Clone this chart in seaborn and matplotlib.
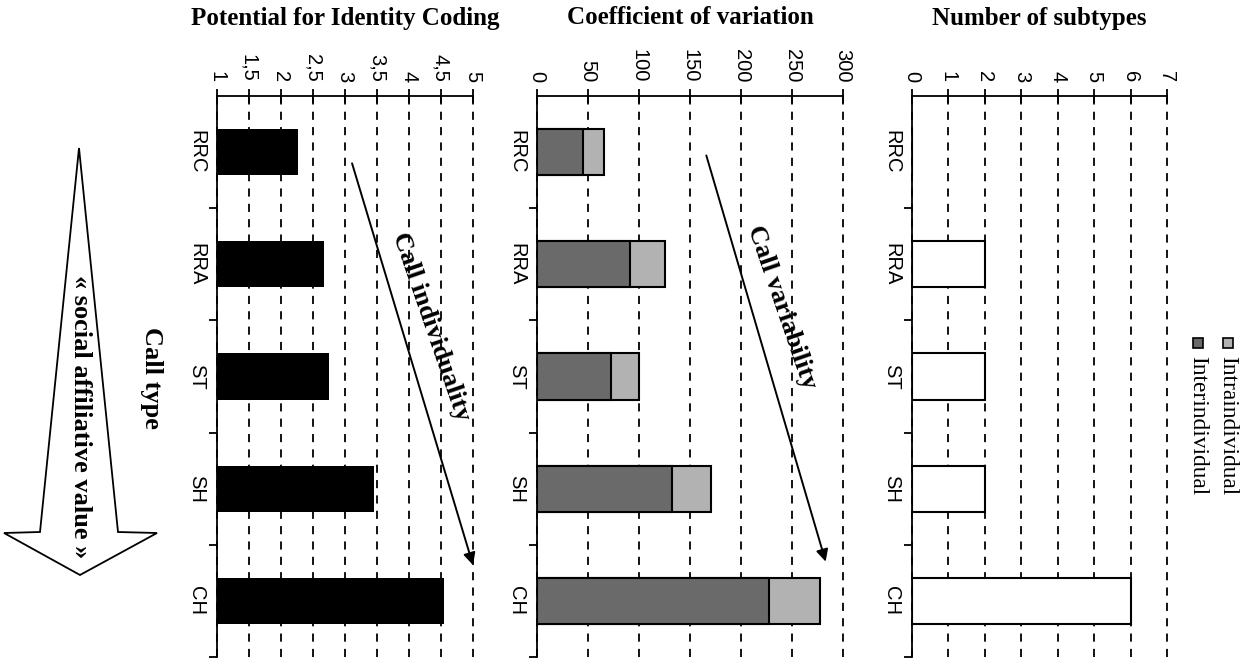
import numpy as np
import pandas as pd
import matplotlib.pyplot as plt
import seaborn as sns
from matplotlib.patches import Polygon, Rectangle

# values
call_types = ['RRC', 'RRA', 'ST', 'SH', 'CH']
pic = [2.27, 2.67, 2.75, 3.45, 4.55]
cv_inter = [45, 91, 73, 132, 227]
cv_intra = [21, 34, 27, 39, 50]
n_subtypes = [0, 2, 2, 2, 6]

pic_ticks = [1, 1.5, 2, 2.5, 3, 3.5, 4, 4.5, 5]
pic_labels = ['1', '1,5', '2', '2,5', '3', '3,5', '4', '4,5', '5']
cv_ticks = [0, 50, 100, 150, 200, 250, 300]
sub_ticks = [0, 1, 2, 3, 4, 5, 6, 7]

cv_total = [a + b for a, b in zip(cv_inter, cv_intra)]

sns.set_theme(style='white')
plt.rcParams['font.family'] = ['Liberation Sans', 'DejaVu Sans']
plt.rcParams.update({'text.color': 'black', 'xtick.color': 'black',
                     'ytick.color': 'black', 'axes.labelcolor': 'black'})
SERIF = ['Liberation Serif', 'DejaVu Serif']

W, H = 1249, 659
fig = plt.figure(figsize=(W / 100, H / 100), dpi=100)


def px_axes(x0, x1, y0, y1):
    return fig.add_axes([x0 / W, 1 - y1 / H, (x1 - x0) / W, (y1 - y0) / H])


def fx(x, y):
    return (x / W, 1 - y / H)


def style(ax, ticks, labels, xlim):
    ax.set_xlim(*xlim)
    ax.set_ylim(4.5, -0.5)
    ax.set_xlabel('')
    ax.set_ylabel('')
    ax.xaxis.tick_top()
    ax.set_xticks(ticks)
    ax.set_xticklabels(labels, rotation=-90, fontsize=14.5, color='black')
    ax.tick_params(axis='x', which='major', direction='inout', length=10,
                   width=1.3, pad=5, colors='black', top=True, bottom=False)
    ax.set_yticks(range(5))
    ax.set_yticklabels(call_types, rotation=-90, va='center', fontsize=14.5,
                       color='black')
    ax.tick_params(axis='y', which='major', length=0, pad=8)
    ax.set_yticks([0.5, 1.5, 2.5, 3.5, 4.5], minor=True)
    ax.tick_params(axis='y', which='minor', length=6, width=1.3,
                   direction='out', left=True, color='black')
    for s in ['right', 'bottom']:
        ax.spines[s].set_visible(False)
    for s in ['top', 'left']:
        ax.spines[s].set_color('black')
        ax.spines[s].set_linewidth(1.3)
    ax.set_axisbelow(True)
    ax.grid(axis='x', color='black', linestyle=(0, (4.5, 4)), linewidth=1.3)
    ax.grid(axis='y', visible=False)
    for gl in ax.get_xgridlines():
        gl.set_clip_on(False)


# panel 1: potential for identity coding
ax1 = px_axes(217, 473, 96, 657)
sns.barplot(x=pic, y=call_types, orient='h', color='black', saturation=1,
            width=0.41, edgecolor='black', linewidth=0, ax=ax1)
style(ax1, pic_ticks, pic_labels, (1, 5))

# panel 2: coefficient of variation (stacked)
ax2 = px_axes(537, 843, 96, 657)
sns.barplot(x=cv_total, y=call_types, orient='h', color='#b2b2b2', saturation=1,
            width=0.41, edgecolor='black', linewidth=1.5, ax=ax2)
sns.barplot(x=cv_inter, y=call_types, orient='h', color='#6a6a6a', saturation=1,
            width=0.41, edgecolor='black', linewidth=1.5, ax=ax2)
style(ax2, cv_ticks, [str(t) for t in cv_ticks], (0, 300))

# panel 3: number of subtypes
ax3 = px_axes(912, 1167, 96, 657)
sns.barplot(x=n_subtypes, y=call_types, orient='h', color='white', saturation=1,
            width=0.41, edgecolor='black', linewidth=1.5, ax=ax3)
style(ax3, sub_ticks, [str(t) for t in sub_ticks], (0, 7))

# titles
for ax, title in [(ax1, 'Potential for Identity Coding'),
                  (ax2, 'Coefficient of variation'),
                  (ax3, 'Number of subtypes')]:
    pos = ax.get_position()
    fig.text((pos.x0 + pos.x1) / 2, 1 - 18 / H, title, ha='center', va='center',
             fontsize=18, fontweight='bold', family=SERIF, color='black')

# trend arrows
ax1.annotate('', xy=(5.0, 3.68), xytext=(3.11, 0.10),
             arrowprops=dict(arrowstyle='-|>', color='black', lw=1.4,
                             mutation_scale=18, shrinkA=0, shrinkB=0))
ax1.text(4.34, 1.56, 'Call individuality', rotation=-71, ha='center', va='center',
         fontsize=19, fontweight='bold', family=SERIF, color='black')
ax2.annotate('', xy=(283, 3.65), xytext=(166, 0.03),
             arrowprops=dict(arrowstyle='-|>', color='black', lw=1.4,
                             mutation_scale=18, shrinkA=0, shrinkB=0))
ax2.text(240, 1.38, 'Call variability', rotation=-71, ha='center', va='center',
         fontsize=19, fontweight='bold', family=SERIF, color='black')

# legend (rotated, drawn by hand)
for (x, col, lab) in [(1228, '#b2b2b2', 'Intraindividual'),
                      (1198, '#6a6a6a', 'Interindividual')]:
    fig.patches.append(Rectangle(fx(x - 5, 348), 10 / W, 10 / H, facecolor=col,
                                 edgecolor='black', lw=1.2, transform=fig.transFigure))
    fig.text(*fx(x, 356), lab, rotation=-90, ha='center', va='top',
             fontsize=16.8, family=SERIF, color='black')

# call type label and the big arrow
fig.text(*fx(152, 378), 'Call type', rotation=-90, ha='center', va='center',
         fontsize=19, fontweight='bold', family=SERIF, color='black')
arrow_pts = [fx(79, 148), fx(118, 532), fx(157, 533), fx(80, 575),
             fx(4, 533), fx(40, 532)]
fig.patches.append(Polygon(arrow_pts, closed=True, facecolor='white',
                           edgecolor='black', lw=1.3, transform=fig.transFigure))
fig.text(*fx(80, 417), '« social affiliative value »', rotation=-90, ha='center',
         va='center', fontsize=19, fontweight='bold', family=SERIF, color='black')

fig.savefig('out.png', dpi=100)
